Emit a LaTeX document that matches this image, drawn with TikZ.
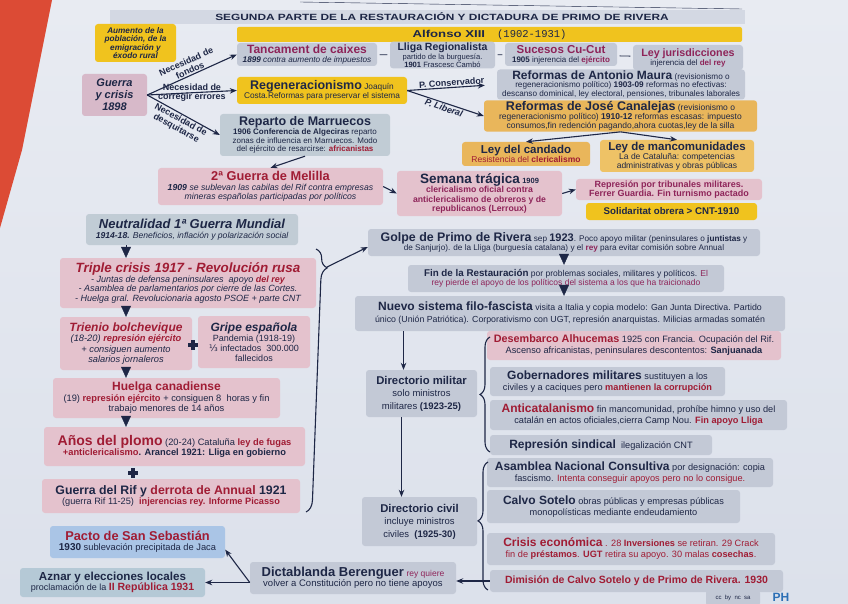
\documentclass[tikz,border=0pt]{standalone}
\usepackage{fontspec}
\setmainfont{Liberation Sans}
\setmonofont{Liberation Mono}
\newfontfamily\widefont[FakeStretch=1.32]{Liberation Sans}
\newfontfamily\dejavu{DejaVu Sans}
\usepackage{tikz}
\usetikzlibrary{arrows.meta, calc, decorations.pathreplacing}
\definecolor{ink}{HTML}{1E2746}
\definecolor{rojo}{HTML}{A01C34}
\definecolor{mag}{HTML}{8E2459}
\definecolor{papel}{HTML}{DCE1EB}
\definecolor{papelclaro}{HTML}{E8EBF2}
\definecolor{papelrojo}{HTML}{DC4B35}
\definecolor{gris}{HTML}{C3C9D6}
\definecolor{cinta}{HTML}{D3D8E3}
\definecolor{verdegris}{HTML}{C1CCD5}
\definecolor{rosa}{HTML}{E4C2CD}
\definecolor{rosado}{HTML}{D7B9C9}
\definecolor{amarillo}{HTML}{F0C31E}
\definecolor{naranja}{HTML}{E9B65B}
\definecolor{naranjaclaro}{HTML}{EEC266}
\definecolor{azul}{HTML}{AAC5E6}
\definecolor{azulgris}{HTML}{B5C9D6}
\definecolor{phazul}{HTML}{2C6FB5}
\newcommand\cab[2][12]{{\fontsize{#1}{#1}\selectfont\bfseries #2}}
\newcommand\rj[1]{\textcolor{rojo}{\textbf{#1}}}
\newcommand\mg[1]{\textcolor{mag}{\textbf{#1}}}
\begin{document}
\begin{tikzpicture}[x=1pt, y=-1pt,
    box/.style={rounded corners=3pt, inner sep=1.2pt, align=center, text=ink, font=\fontsize{8.5}{9.5}\selectfont},
    sz/.style 2 args={minimum width=#1pt, minimum height=#2pt},
    arr/.style={-{Stealth[length=7pt, width=5.5pt]}, ink, line width=1.1pt},
    tri/.style={-{Triangle[length=11pt, width=10pt]}, ink, line width=0.4pt},
    etiqueta/.style={align=center, text=ink, inner sep=1pt, font=\bfseries\fontsize{9}{9.5}\selectfont},
    llave/.style={decorate, decoration={brace, amplitude=#1}, ink, line width=1.1pt},
    cruz/.style={minimum size=10pt, inner sep=0pt, path picture={
        \fill[ink] ([xshift=-1.8pt]path picture bounding box.north) rectangle ([xshift=1.8pt]path picture bounding box.south);
        \fill[ink] ([yshift=-1.8pt]path picture bounding box.west) rectangle ([yshift=1.8pt]path picture bounding box.east);}}]
    \useasboundingbox (0,0) rectangle (848,604);
    \shade[top color=papelclaro, bottom color=papel] (0,0) rectangle (848,604);
    \fill[papelrojo] (0,0) -- (52,0) -- (22,150) -- (0,228) -- cycle;
    \draw[ink, thin] (300,2) -- (742,9);
    \node[fill=cinta, sz={635}{14}, inner sep=0pt] (barra) at (427,17) {};
    \node[text=ink, font=\widefont\bfseries\fontsize{9}{9}\selectfont] (titulo) at (442,16.5) {SEGUNDA PARTE DE LA RESTAURACIÓN Y DICTADURA DE PRIMO DE RIVERA};
    \node[fill=amarillo, sz={505}{15}, inner sep=0pt, rounded corners=2pt, text=ink] (alfonso) at (489.5,34.5) {{\widefont\bfseries\fontsize{10}{10}\selectfont Alfonso XIII}\hspace{12pt}{\ttfamily\fontsize{10.5}{10}\selectfont(1902-1931)}};
    \node[box, fill=amarillo, sz={81}{38}, font=\bfseries\itshape\fontsize{8.2}{8.2}\selectfont] (aumento) at (135.5,43) {Aumento de la\\población, de la\\emigración y\\éxodo rural};
    \node[box, fill=gris, sz={140}{23}, font=\itshape\fontsize{8.2}{9}\selectfont] (tancament) at (307,54.5) {\textcolor{mag}{\cab{\upshape Tancament de caixes}}\\\textbf{1899} contra aumento de impuestos};
    \node[box, fill=gris, sz={105}{26}, font=\fontsize{7.6}{7.8}\selectfont] (lliga) at (442.5,55) {\cab[10.5]{Lliga Regionalista}\\partido de la burguesía.\\\textbf{1901} Frascesc Cambó};
    \node[box, fill=gris, sz={112}{23}, font=\fontsize{8}{9}\selectfont] (sucesos) at (561,54.5) {\textcolor{mag}{\cab[11.5]{Sucesos Cu-Cut}}\\\textbf{1905} injerencia del \mg{ejército}};
    \node[box, fill=gris, sz={110}{25}, font=\fontsize{8}{9}\selectfont] (jurisd) at (688,57.5) {\textcolor{mag}{\cab[10.7]{Ley jurisdicciones}}\\injerencia del \mg{del rey}};
    \draw[ink, thick, shorten <=2.5pt, shorten >=2.5pt] (tancament) -- (lliga);
    \draw[ink, thick, shorten <=2.5pt, shorten >=2.5pt] (lliga) -- (sucesos);
    \draw[ink, thick, shorten <=2.5pt, shorten >=2.5pt] (sucesos) -- (jurisd);
    \node[box, fill=rosado, sz={65}{42}, font=\bfseries\itshape\fontsize{11}{12}\selectfont] (guerra) at (114.5,95) {Guerra\\y crisis\\1898};
    \node[box, fill=amarillo, sz={170}{27}, font=\fontsize{8.3}{9.5}\selectfont] (regen) at (322,90.5) {\cab[12.5]{Regeneracionismo} Joaquín\\Costa.Reformas para preservar el sistema};
    \node[box, fill=verdegris, sz={170}{42}, font=\fontsize{8}{8.8}\selectfont] (reparto) at (305,135) {\cab[12.5]{Reparto de Marruecos}\\\textbf{1906 Conferencia de Algeciras} reparto\\zonas de influencia en Marruecos. Modo\\del ejército de resarcirse: \rj{africanistas}};
    \draw[arr] (guerra.east) -- (tancament.west) node[midway, above, sloped, etiqueta] {Necesidad de\\fondos};
    \draw[arr] (guerra.east) -- (regen.west) node[midway, etiqueta] {Necesidad de\\corregir errores};
    \draw[arr] (guerra.east) -- (reparto.west) node[midway, below, sloped, etiqueta] {Necesidad de\\desquitarse};
    \node[box, fill=gris, sz={248}{27}, font=\fontsize{8.2}{8.6}\selectfont] (maura) at (621,84.5) {\cab{Reformas de Antonio Maura} (revisionismo o\\regeneracionismo político) \textbf{1903-09} reformas no efectivas:\\descanso dominical, ley electoral, pensiones, tribunales laborales};
    \node[box, fill=naranja, sz={273}{30}, font=\fontsize{8.5}{9}\selectfont] (canalejas) at (620.5,116) {\cab[12.5]{Reformas de José Canalejas} (revisionismo o\\regeneracionismo político) \textbf{1910-12} reformas escasas: impuesto\\consumos,fin redención pagando,ahora cuotas,ley de la silla};
    \draw[arr, shorten >=12pt] (regen.east) -- (maura.west) node[midway, above, sloped, etiqueta] {P. Conservador};
    \draw[arr] (regen.east) -- (canalejas.west) node[midway, below, sloped, etiqueta] {\itshape P. Liberal};
    \node[box, fill=naranja, sz={128}{24}] (candado) at (526,154) {\cab[11.5]{Ley del candado}\\\textcolor{rojo}{Resistencia del \textbf{clericalismo}}};
    \node[box, fill=naranjaclaro, sz={154}{32}, font=\fontsize{8.5}{8.5}\selectfont] (mancom) at (677,156) {\cab[11.5]{Ley de mancomunidades}\\La de Cataluña: competencias\\administrativas y obras públicas};
    \draw[arr] (canalejas.south) -- (candado.north);
    \draw[arr] (canalejas.south) -- (mancom.north);
    \node[box, fill=rosa, sz={225}{37}, font=\itshape\fontsize{8.7}{9.3}\selectfont] (melilla) at (270.5,186.5) {\textcolor{rojo}{\cab[12.8]{\upshape 2ª Guerra de Melilla}}\\\textbf{1909} se sublevan las cabilas del Rif contra empresas\\mineras españolas participadas por políticos};
    \node[box, fill=rosa, sz={165}{45}, font=\bfseries\fontsize{8.7}{9.6}\selectfont, text=mag] (semana) at (479.5,193.5) {\textcolor{ink}{\cab[13.5]{Semana trágica} {\fontsize{7.5}{8}\selectfont 1909}}\\clericalismo oficial contra\\anticlericalismo de obreros y de\\republicanos (Lerroux)};
    \node[box, fill=rosa, sz={186}{21}, font=\bfseries\fontsize{9}{9.3}\selectfont, text=mag] (tribunales) at (669,189.5) {Represión por tribunales militares.\\Ferrer Guardia. Fin turnismo pactado};
    \node[box, fill=amarillo, sz={171}{17}, font=\bfseries\fontsize{9.7}{10}\selectfont] (solidaritat) at (671.5,211.5) {Solidaritat obrera > CNT-1910};
    \draw[arr] (reparto.south) -- (melilla.north);
    \draw[arr] (melilla.east) -- (semana.west);
    \draw[arr] (semana.east) -- (tribunales.west);
    \node[box, fill=verdegris, sz={212}{31}, font=\itshape\fontsize{8.6}{9.5}\selectfont] (neutral) at (192,229.5) {\cab[13]{Neutralidad 1ª Guerra Mundial}\\\textbf{1914-18.} Beneficios, inflación y polarización social};
    \node[box, fill=rosa, sz={256}{50}, font=\itshape\fontsize{9}{9.5}\selectfont] (triple) at (188,283) {\textcolor{rojo}{\cab[13.4]{Triple crisis 1917 - Revolución rusa}}\\- Juntas de defensa peninsulares \ apoyo \rj{del rey}\\- Asamblea de parlamentarios por cierre de las Cortes.\\- Huelga gral. Revolucionaria agosto PSOE + parte CNT};
    \node[box, fill=rosa, sz={132}{53}, font=\itshape\fontsize{9.3}{10.5}\selectfont] (trienio) at (126,343.5) {\textcolor{rojo}{\cab{Trienio bolchevique}}\\(18-20) \rj{represión ejército}\\+ consiguen aumento\\salarios jornaleros};
    \node[box, fill=rosa, sz={112}{52}, font=\fontsize{9}{10}\selectfont] (gripe) at (254,342) {\cab{\itshape Gripe española}\\Pandemia (1918-19)\\{\dejavu ⅓} infectados \ 300.000\\fallecidos};
    \node[cruz] (masA) at (193,345) {};
    \node[box, fill=rosa, sz={227}{40}, font=\fontsize{9.3}{10.5}\selectfont] (huelga) at (166.5,398) {\textcolor{rojo}{\cab{Huelga canadiense}}\\(19) \rj{represión ejército} + consiguen 8 \ horas y fin\\trabajo menores de 14 años};
    \node[box, fill=rosa, sz={261}{39}, font=\fontsize{9.3}{10.5}\selectfont] (plomo) at (174.5,446.5) {\textcolor{rojo}{\cab[14]{Años del plomo}} (20-24) Cataluña \rj{ley de fugas}\\\textbf{\textcolor{rojo}{+anticlericalismo}. Arancel 1921: Lliga en gobierno}};
    \node[cruz] (masB) at (133,473) {};
    \node[box, fill=rosa, sz={258}{34}, font=\fontsize{9.2}{10.5}\selectfont] (rif) at (171,496) {\cab[12.3]{Guerra del Rif y \textcolor{rojo}{derrota de Annual} 1921}\\(guerra Rif 11-25) \ \rj{injerencias rey. Informe Picasso}};
    \draw[tri] (neutral.south -| trienio) -- (triple.north -| trienio);
    \draw[tri] (triple.south -| trienio) -- (trienio.north);
    \draw[tri] (trienio.south) -- (huelga.north -| trienio);
    \draw[tri] (huelga.south -| trienio) -- (plomo.north -| trienio);
    \node[box, fill=azul, sz={175}{32}, font=\fontsize{9.3}{10.5}\selectfont] (pacto) at (137.5,542) {\textcolor{rojo}{\cab[12.8]{Pacto de San Sebastián}}\\\textbf{\fontsize{10}{10}\selectfont 1930} sublevación precipitada de Jaca};
    \node[box, fill=azulgris, sz={185}{29}, font=\fontsize{9}{10.5}\selectfont] (aznar) at (112.5,582.5) {\cab[11.6]{Aznar y elecciones locales}\\proclamación de la \rj{\fontsize{10.5}{10}\selectfont II República 1931}};
    \node[box, fill=gris, sz={206}{32}, font=\fontsize{9.5}{10.5}\selectfont] (dicta) at (353,578) {\cab[13]{Dictablanda Berenguer} \textcolor{mag}{\fontsize{8.5}{9}\selectfont rey quiere}\\volver a Constitución pero no tiene apoyos};
    \node[box, fill=gris, sz={392}{27}, font=\fontsize{8.2}{9.5}\selectfont] (golpe) at (564,242.5) {\cab[12.4]{Golpe de Primo de Rivera} sep \cab[11]{1923}. Poco apoyo militar (peninsulares o \textbf{juntistas} y\\de Sanjurjo). de la Lliga (burguesía catalana) y el \mg{rey} para evitar comisión sobre Annual};
    \node[box, fill=gris, sz={316}{27}, font=\fontsize{8.5}{9.5}\selectfont] (fin) at (566,278.5) {\cab[9.8]{Fin de la Restauración} por problemas sociales, militares y políticos. \textcolor{mag}{El}\\\textcolor{mag}{rey pierde el apoyo de los políticos del sistema a los que ha traicionado}};
    \node[box, fill=gris, sz={430}{35}, font=\fontsize{8.8}{12}\selectfont] (nuevo) at (570,313.5) {\cab{Nuevo sistema filo-fascista} visita a Italia y copia modelo: Gan Junta Directiva. Partido\\único (Unión Patriótica). Corporativismo con UGT, represión anarquistas. Milicias armadas somatén};
    \draw[tri] (golpe.south) -- (fin.north -| golpe);
    \draw[tri] (fin.south -| golpe) -- (nuevo.north -| golpe);
    \draw[llave=12pt, decoration={aspect=0.07}] (316,249) -- (306,512);
    \coordinate (puntaA) at (327,267);
    \draw[arr] (puntaA) -- ([yshift=-4.5pt]golpe.west);
    \node[box, fill=gris, sz={111}{47}, font=\fontsize{9.5}{12.5}\selectfont] (dirmil) at (421.5,393.5) {\cab[11.3]{Directorio militar}\\solo ministros\\militares \textbf{(1923-25)}};
    \node[box, fill=rosa, sz={294}{29}, font=\fontsize{9.2}{11}\selectfont] (alhucemas) at (634,345.5) {\textcolor{rojo}{\cab[10.8]{Desembarco Alhucemas}} 1925 con Francia. Ocupación del Rif.\\Ascenso africanistas, peninsulares descontentos: \textbf{Sanjuanada}};
    \node[box, fill=gris, sz={235}{29}, font=\fontsize{9.2}{11}\selectfont] (gobern) at (607.5,381.5) {\cab{Gobernadores militares} sustituyen a los\\civiles y a caciques pero \rj{mantienen la corrupción}};
    \node[box, fill=gris, sz={297}{30}, font=\fontsize{9.2}{11}\selectfont] (anticat) at (638.5,415) {\textcolor{rojo}{\cab{Anticatalanismo}} fin mancomunidad, prohíbe himno y uso del\\catalán en actos oficiales,cierra Camp Nou. \rj{Fin apoyo Lliga}};
    \node[box, fill=gris, sz={222}{20}, font=\fontsize{9.2}{10}\selectfont] (sindical) at (601,445) {\cab{Represión sindical} \ ilegalización CNT};
    \draw[llave=10pt] (490,452) -- (490,337);
    \node[box, fill=gris, sz={115}{49}, font=\fontsize{9.5}{12.5}\selectfont] (dirciv) at (419.5,521.5) {\cab[11.3]{Directorio civil}\\incluye ministros\\civiles \ \textbf{(1925-30)}};
    \node[box, fill=gris, sz={286}{29}, font=\fontsize{9.2}{11}\selectfont] (asamblea) at (630,472.5) {\cab{Asamblea Nacional Consultiva} por designación: copia\\fascismo. \textcolor{rojo}{Intenta conseguir apoyos pero no lo consigue.}};
    \node[box, fill=gris, sz={253}{33}, font=\fontsize{9.2}{11}\selectfont] (calvo) at (613.5,506.5) {\cab{Calvo Sotelo} obras públicas y empresas públicas\\monopolísticas mediante endeudamiento};
    \node[box, fill=gris, sz={288}{32}, font=\fontsize{9.2}{11}\selectfont, text=rojo] (crisis) at (631,549) {\cab{Crisis económica} . 28 \textbf{Inversiones} se retiran. 29 Crack\\fin de \textbf{préstamos}. \textbf{UGT} retira su apoyo. 30 malas \textbf{cosechas}.};
    \node[box, fill=gris, sz={293}{22}, font=\bfseries\fontsize{10.5}{11}\selectfont, text=rojo] (dimision) at (636.5,581) {Dimisión de Calvo Sotelo y de Primo de Rivera. 1930};
    \draw[llave=10pt, decoration={aspect=0.54}] (488,590) -- (488,462);
    \draw[arr] ($(dirmil.north |- nuevo.south)+(-18,0)$) -- ($(dirmil.north)+(-18,0)$);
    \draw[arr] ($(dirmil.south)+(-20,0)$) -- ($(dirmil.south |- dirciv.north)+(-20,0)$);
    \draw[arr] (dimision.west) -- (dimision.west -| dicta.east);
    \coordinate (cruce) at (dicta.west |- aznar.east);
    \draw[arr] (cruce) -- (aznar.east);
    \draw[arr] (cruce) -- (pacto.-5);
    \node[fill=gris, rounded corners=2pt, text=ink, font=\fontsize{6}{6}\selectfont, sz={54}{14}] (cc) at (733,598) {cc \ by \ nc \ sa};
    \node[text=phazul, font=\bfseries\fontsize{12}{12}\selectfont] (ph) at (781,597) {PH};
\end{tikzpicture}
\end{document}
